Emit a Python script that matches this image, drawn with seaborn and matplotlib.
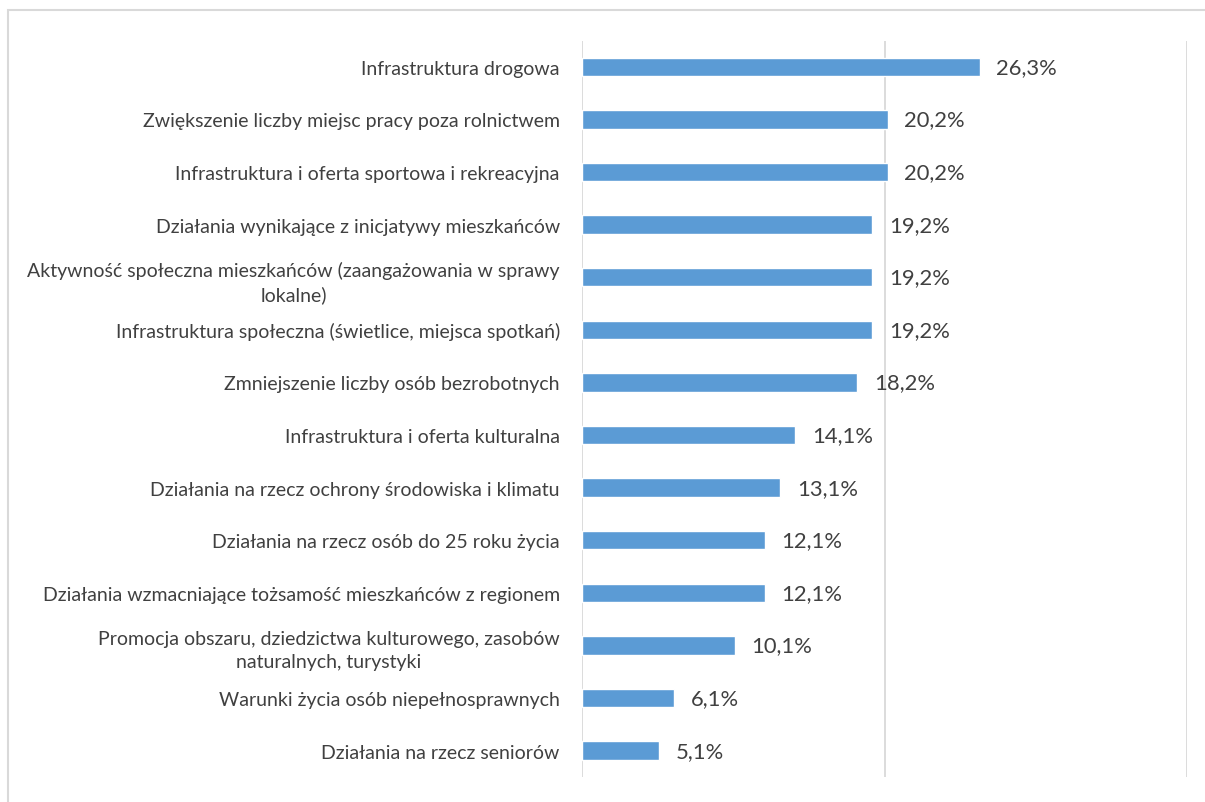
import matplotlib
matplotlib.use("Agg")
import matplotlib.pyplot as plt
import pandas as pd
import seaborn as sns
from matplotlib.patches import Rectangle

categories = [
    "Infrastruktura drogowa",
    "Zwiększenie liczby miejsc pracy poza rolnictwem",
    "Infrastruktura i oferta sportowa i rekreacyjna",
    "Działania wynikające z inicjatywy mieszkańców",
    "Aktywność społeczna mieszkańców (zaangażowania w sprawy\nlokalne)",
    "Infrastruktura społeczna (świetlice, miejsca spotkań)",
    "Zmniejszenie liczby osób bezrobotnych",
    "Infrastruktura i oferta kulturalna",
    "Działania na rzecz ochrony środowiska i klimatu",
    "Działania na rzecz osób do 25 roku życia",
    "Działania wzmacniające tożsamość mieszkańców z regionem",
    "Promocja obszaru, dziedzictwa kulturowego, zasobów\nnaturalnych, turystyki",
    "Warunki życia osób niepełnosprawnych",
    "Działania na rzecz seniorów",
]
values = [26.3, 20.2, 20.2, 19.2, 19.2, 19.2, 18.2, 14.1, 13.1, 12.1, 12.1, 10.1, 6.1, 5.1]
x_ticks = [0, 20, 40]

BAR = "#5B9BD5"
TEXT = "#404040"
GRID = "#D9D9D9"

sns.set_theme(style="white")
plt.rcParams["font.family"] = ["Lato", "DejaVu Sans"]

df = pd.DataFrame({"category": categories, "value": values})

fig = plt.figure(figsize=(12.05, 8.03), dpi=100)
ax = fig.add_axes([582 / 1205, 1 - 778 / 803, (1187 - 582) / 1205, (778 - 41.5) / 803])

sns.barplot(data=df, x="value", y="category", orient="h", color=BAR,
            width=0.35, saturation=1, ax=ax)

ax.set_xlim(0, 40)
ax.set_xticks(x_ticks)
ax.xaxis.grid(True, color=GRID, linewidth=1.3)
ax.set_axisbelow(True)
ax.tick_params(axis="x", length=0, labelbottom=False)
ax.tick_params(axis="y", length=0, pad=16)
ax.set_xlabel("")
ax.set_ylabel("")
for s in ax.spines.values():
    s.set_visible(False)

for lbl in ax.get_yticklabels():
    lbl.set_fontsize(14)
    lbl.set_color(TEXT)
    lbl.set_multialignment("center")
    lbl.set_linespacing(1.45)

labels = [f"{v:.1f}%".replace(".", ",") for v in values]
ax.bar_label(ax.containers[0], labels=labels, padding=12, fontsize=15.8, color=TEXT)

# outer chart frame (partially clipped like the original export)
fig.patches.append(Rectangle((8 / 1205, -0.05), 1.2, 1 - 11 / 803 + 0.05,
                             transform=fig.transFigure, fill=False,
                             edgecolor="#D9D9D9", linewidth=1.5))

fig.savefig("out.png", dpi=100, facecolor="white")
